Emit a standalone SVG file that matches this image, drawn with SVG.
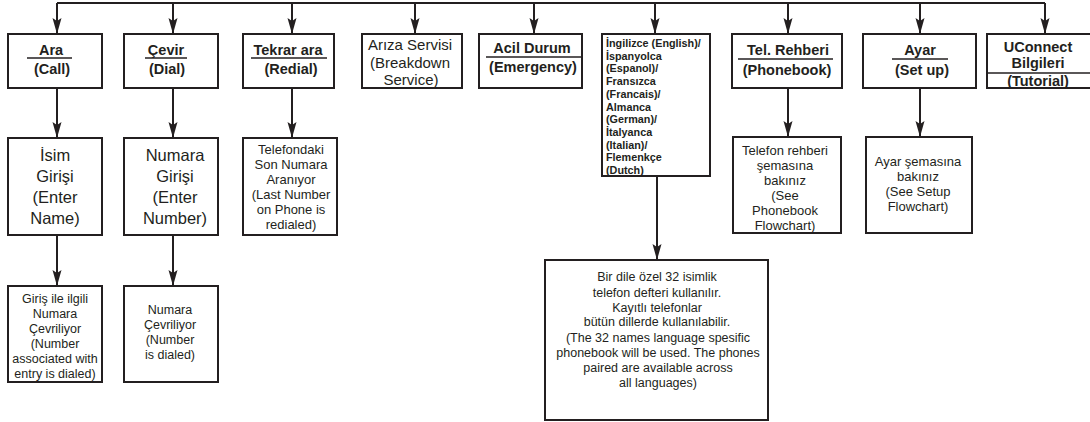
<svg xmlns="http://www.w3.org/2000/svg" width="1090" height="422" viewBox="0 0 1090 422">
<style>
.box{fill:#fff;stroke:#231f20;stroke-width:2}
.ln{fill:none;stroke:#231f20;stroke-width:2}
.ul{stroke:#231f20;stroke-width:1.6}
text{font-family:"Liberation Sans",Arial,sans-serif;fill:#231f20;text-anchor:middle}
.t{font-size:14.5px;font-weight:bold}
.r15{font-size:15px}
.r16{font-size:16.5px}
.s13{font-size:13px}
.s12{font-size:12.5px}
.lang{font-size:10.8px;font-weight:bold;text-anchor:start}
</style>
<defs>
<marker id="ah" markerUnits="userSpaceOnUse" markerWidth="17" markerHeight="10" refX="16" refY="5" orient="auto">
<path d="M0,0.5 L16,5 L0,9.5 L3,5 z" fill="#231f20"/>
</marker>
</defs>
<g id="connectors">
<path class="ln" d="M57,3 H1045"/>
<path class="ln" d="M57,3 V34" marker-end="url(#ah)"/>
<path class="ln" d="M173,3 V34" marker-end="url(#ah)"/>
<path class="ln" d="M292,3 V34" marker-end="url(#ah)"/>
<path class="ln" d="M415,3 V34" marker-end="url(#ah)"/>
<path class="ln" d="M534,3 V34" marker-end="url(#ah)"/>
<path class="ln" d="M655,3 V34" marker-end="url(#ah)"/>
<path class="ln" d="M788,3 V34" marker-end="url(#ah)"/>
<path class="ln" d="M920,3 V34" marker-end="url(#ah)"/>
<path class="ln" d="M1045,3 V34" marker-end="url(#ah)"/>
<path class="ln" d="M57,88 V138" marker-end="url(#ah)"/>
<path class="ln" d="M173,88 V138" marker-end="url(#ah)"/>
<path class="ln" d="M292,88 V138" marker-end="url(#ah)"/>
<path class="ln" d="M57,235 V286" marker-end="url(#ah)"/>
<path class="ln" d="M173,235 V286" marker-end="url(#ah)"/>
<path class="ln" d="M788,88 V137" marker-end="url(#ah)"/>
<path class="ln" d="M920,88 V137" marker-end="url(#ah)"/>
<path class="ln" d="M657,176 V260" marker-end="url(#ah)"/>
</g>
<g id="ara">
<rect class="box" x="8" y="34" width="94" height="54"/>
<text class="t" x="51" y="55">Ara</text>
<line class="ul" x1="27" y1="58" x2="72" y2="58"/>
<text class="t" x="52" y="74">(Call)</text>
</g>
<g id="cevir">
<rect class="box" x="124" y="34" width="94" height="54"/>
<text class="t" x="166" y="55">Çevir</text>
<line class="ul" x1="145" y1="58" x2="187" y2="58"/>
<text class="t" x="167" y="74">(Dial)</text>
</g>
<g id="tekrar">
<rect class="box" x="243" y="34" width="91" height="54"/>
<text class="t" x="288" y="55">Tekrar ara</text>
<line class="ul" x1="251" y1="58" x2="327" y2="58"/>
<text class="t" x="291" y="74">(Redial)</text>
</g>
<g id="ariza">
<rect class="box" x="362" y="34" width="100" height="54"/>
<text class="r15" x="410" y="50">Arıza Servisi</text>
<text class="r15" x="410" y="67.5">(Breakdown</text>
<text class="r15" x="411" y="85">Service)</text>
</g>
<g id="acil">
<rect class="box" x="479" y="34" width="103" height="54"/>
<text class="t" x="532" y="53">Acil Durum</text>
<line class="ul" x1="486" y1="57" x2="581" y2="57"/>
<text class="t" x="533" y="72">(Emergency)</text>
</g>
<g id="diller">
<rect class="box" x="602" y="34" width="108" height="142"/>
<text class="lang" x="606" y="47">İngilizce (English)/</text>
<text class="lang" x="606" y="59.7">İspanyolca</text>
<text class="lang" x="606" y="72.4">(Espanol)/</text>
<text class="lang" x="606" y="85.1">Fransızca</text>
<text class="lang" x="606" y="97.8">(Francais)/</text>
<text class="lang" x="606" y="110.5">Almanca</text>
<text class="lang" x="606" y="123.2">(German)/</text>
<text class="lang" x="606" y="135.9">İtalyanca</text>
<text class="lang" x="606" y="148.6">(Italian)/</text>
<text class="lang" x="606" y="161.3">Flemenkçe</text>
<text class="lang" x="606" y="174">(Dutch)</text>
</g>
<g id="rehber">
<rect class="box" x="732" y="34" width="110" height="54"/>
<text class="t" x="788" y="55">Tel. Rehberi</text>
<line class="ul" x1="738" y1="59" x2="833" y2="59"/>
<text class="t" x="787" y="75">(Phonebook)</text>
</g>
<g id="ayar">
<rect class="box" x="863" y="34" width="113" height="54"/>
<text class="t" x="920" y="55">Ayar</text>
<line class="ul" x1="892" y1="59" x2="948" y2="59"/>
<text class="t" x="922" y="75">(Set up)</text>
</g>
<g id="uconnect">
<rect class="box" x="987" y="34" width="106" height="54"/>
<text class="t" x="1038" y="52">UConnect</text>
<text class="t" x="1038" y="68">Bilgileri</text>
<line class="ul" x1="987" y1="73" x2="1090" y2="73"/>
<text class="t" x="1038" y="85.5">(Tutorial)</text>
</g>
<g id="isim">
<rect class="box" x="8" y="138" width="94" height="97"/>
<text class="r16" x="55" y="161">İsim</text>
<text class="r16" x="55" y="182">Girişi</text>
<text class="r16" x="55" y="203">(Enter</text>
<text class="r16" x="55" y="224">Name)</text>
</g>
<g id="numaragirisi">
<rect class="box" x="124" y="138" width="94" height="97"/>
<text class="r16" x="175" y="161">Numara</text>
<text class="r16" x="175" y="182">Girişi</text>
<text class="r16" x="175" y="203">(Enter</text>
<text class="r16" x="175" y="224">Number)</text>
</g>
<g id="sonnumara">
<rect class="box" x="243" y="138" width="94" height="97"/>
<text class="s13" x="291" y="154">Telefondaki</text>
<text class="s13" x="291" y="169">Son Numara</text>
<text class="s13" x="291" y="184">Aranıyor</text>
<text class="s13" x="291" y="199">(Last Number</text>
<text class="s13" x="291" y="214">on Phone is</text>
<text class="s13" x="291" y="229">redialed)</text>
</g>
<g id="girisnumara">
<rect class="box" x="8" y="286" width="94" height="96"/>
<text class="s12" x="55" y="303">Giriş ile ilgili</text>
<text class="s12" x="55" y="318">Numara</text>
<text class="s12" x="55" y="333">Çevriliyor</text>
<text class="s12" x="55" y="348">(Number</text>
<text class="s12" x="55" y="363">associated with</text>
<text class="s12" x="55" y="378">entry is dialed)</text>
</g>
<g id="numaracevriliyor">
<rect class="box" x="124" y="286" width="94" height="96"/>
<text class="s12" x="170" y="314">Numara</text>
<text class="s12" x="170" y="329">Çevriliyor</text>
<text class="s12" x="170" y="344">(Number</text>
<text class="s12" x="170" y="359">is dialed)</text>
</g>
<g id="rehbersema">
<rect class="box" x="733" y="137" width="108" height="96"/>
<text class="s13" x="785" y="155">Telefon rehberi</text>
<text class="s13" x="785" y="170">şemasına</text>
<text class="s13" x="785" y="185">bakınız</text>
<text class="s13" x="785" y="200">(See</text>
<text class="s13" x="785" y="215">Phonebook</text>
<text class="s13" x="785" y="230">Flowchart)</text>
</g>
<g id="ayarsema">
<rect class="box" x="866" y="137" width="106" height="96"/>
<text class="s13" x="918" y="166">Ayar şemasına</text>
<text class="s13" x="918" y="181">bakınız</text>
<text class="s13" x="918" y="196">(See Setup</text>
<text class="s13" x="918" y="211">Flowchart)</text>
</g>
<g id="dilrehber">
<rect class="box" x="545" y="260" width="223" height="160"/>
<text class="s12" x="657" y="281">Bir dile özel 32 isimlik</text>
<text class="s12" x="657" y="297">telefon defteri kullanılır.</text>
<text class="s12" x="657" y="312">Kayıtlı telefonlar</text>
<text class="s12" x="657" y="326">bütün dillerde kullanılabilir.</text>
<text class="s12" x="658" y="342">(The 32 names language spesific</text>
<text class="s12" x="658" y="357">phonebook will be used. The phones</text>
<text class="s12" x="658" y="372">paired are available across</text>
<text class="s12" x="658" y="387">all languages)</text>
</g>
</svg>
